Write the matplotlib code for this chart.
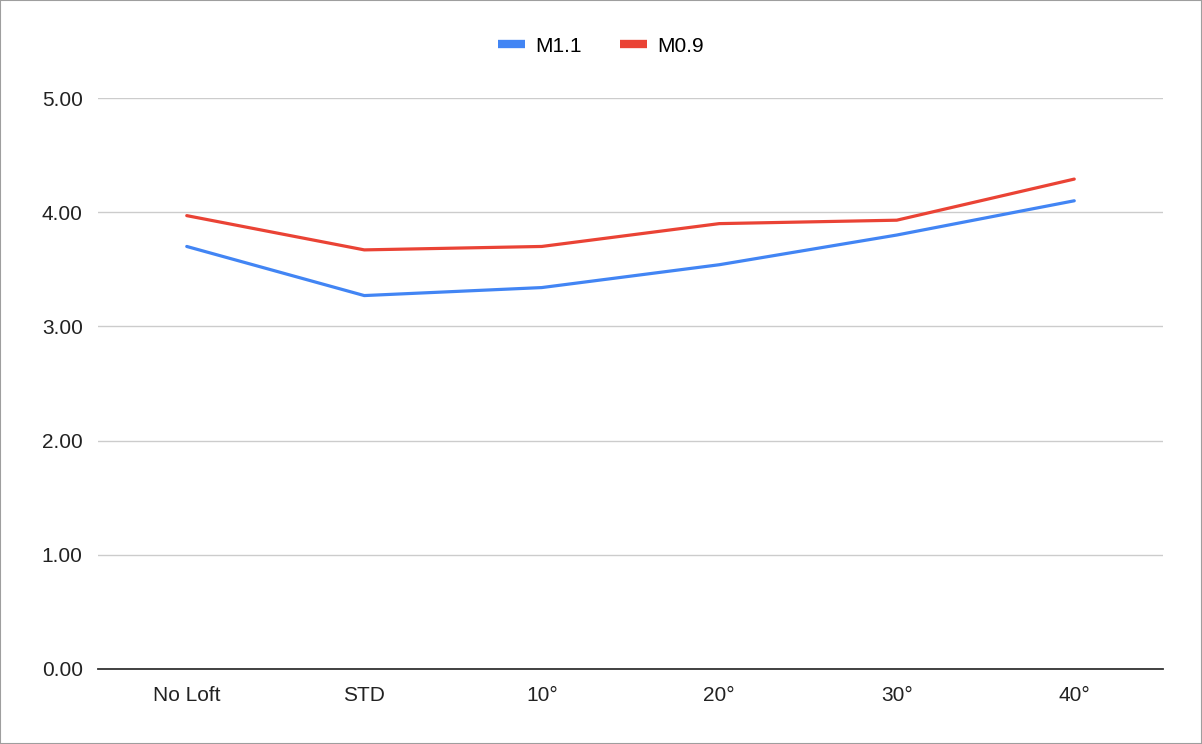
"""Line chart of M1.1 vs M0.9 across loft settings"""

import matplotlib
matplotlib.use('Agg')
from matplotlib import pyplot as plt
from matplotlib.patches import Rectangle

categories = ['No Loft', 'STD', '10°', '20°', '30°', '40°']
m11 = [3.70, 3.27, 3.34, 3.54, 3.80, 4.10]
m09 = [3.97, 3.67, 3.70, 3.90, 3.93, 4.29]
yticks = [0, 1, 2, 3, 4, 5]

plt.rcParams['font.family'] = ['Liberation Sans', 'DejaVu Sans']

fig = plt.figure(figsize=(12.02, 7.44), dpi=100)
ax = fig.add_axes([98 / 1202, 1 - 669 / 744, (1163 - 98) / 1202, (669 - 98) / 744])

x = list(range(len(categories)))
ax.plot(x, m11, color='#4285F4', linewidth=2.3, label='M1.1', solid_capstyle='round')
ax.plot(x, m09, color='#EA4335', linewidth=2.3, label='M0.9', solid_capstyle='round')

ax.set_xlim(-0.5, len(categories) - 0.5)
ax.set_ylim(0, 5)
ax.set_yticks(yticks)
ax.set_yticklabels([f'{v:.2f}' for v in yticks])
ax.set_xticks(x)
ax.set_xticklabels(categories)
ax.tick_params(axis='both', length=0, labelsize=15, colors='#222222')
ax.tick_params(axis='y', pad=11)
ax.tick_params(axis='x', pad=12)

ax.grid(axis='y', color='#cccccc', linewidth=1)
ax.set_axisbelow(True)
for side in ['top', 'right', 'left']:
    ax.spines[side].set_visible(False)
ax.spines['bottom'].set_color('#333333')
ax.spines['bottom'].set_linewidth(1.3)
ax.spines['bottom'].set_zorder(3)

leg = fig.legend(loc='center', bbox_to_anchor=(0.5, 1 - 46 / 744), ncol=2,
                 frameon=False, fontsize=15, handlelength=1.3, handletextpad=0.5,
                 columnspacing=1.8)
for line in leg.get_lines():
    line.set_linewidth(6)
    line.set_solid_capstyle('butt')

fig.patches.append(Rectangle((0, 0), 1, 1, transform=fig.transFigure,
                             fill=False, edgecolor='#9e9e9e', linewidth=1.5))

fig.savefig('out.png', dpi=100)
